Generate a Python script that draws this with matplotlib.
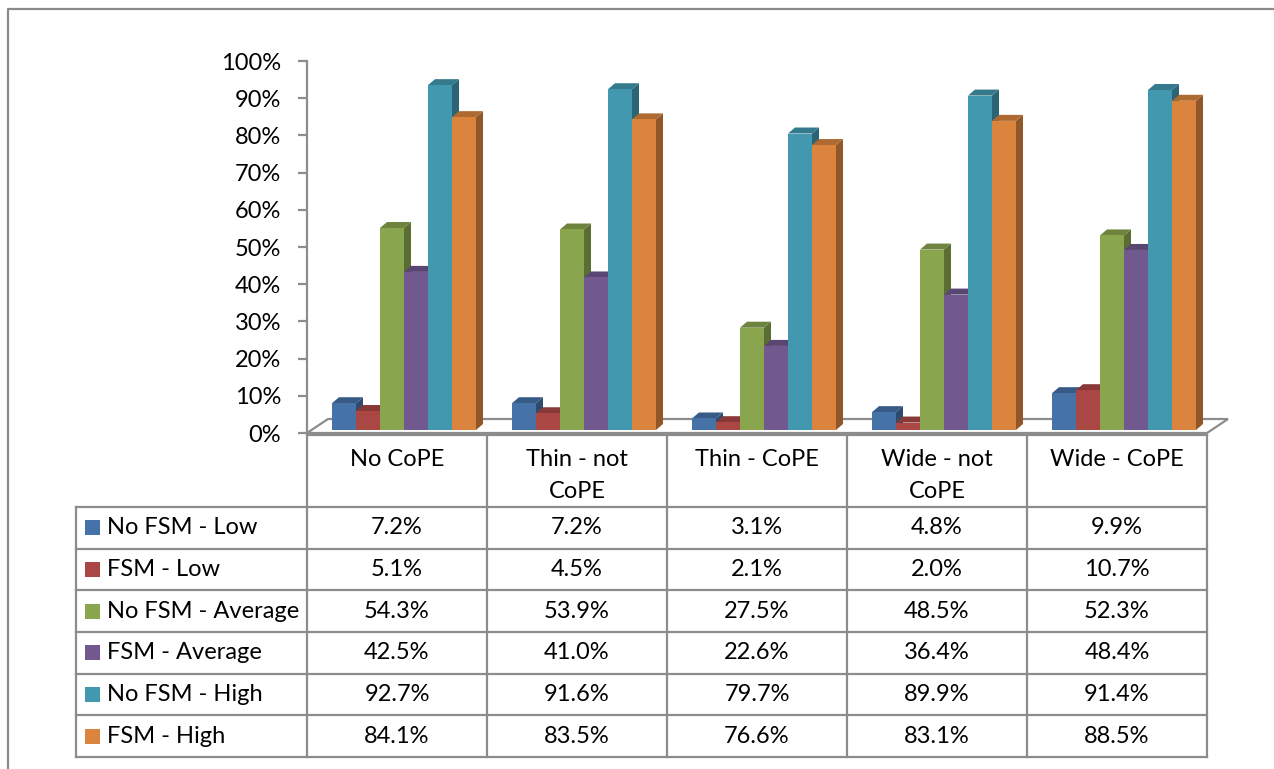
import matplotlib
matplotlib.use("Agg")
import matplotlib.pyplot as plt
from matplotlib.patches import Polygon, Rectangle
from matplotlib.ticker import FuncFormatter
import matplotlib.colors as mcolors

plt.rcParams['font.family'] = ['Lato', 'DejaVu Sans']

# ---- data -------------------------------------------------------------
categories = ["No CoPE", "Thin - not\nCoPE", "Thin - CoPE", "Wide - not\nCoPE", "Wide - CoPE"]
series_names = ["No FSM - Low", "FSM - Low", "No FSM - Average",
                "FSM - Average", "No FSM - High", "FSM - High"]
no_fsm_low = [7.2, 7.2, 3.1, 4.8, 9.9]
fsm_low = [5.1, 4.5, 2.1, 2.0, 10.7]
no_fsm_average = [54.3, 53.9, 27.5, 48.5, 52.3]
fsm_average = [42.5, 41.0, 22.6, 36.4, 48.4]
no_fsm_high = [92.7, 91.6, 79.7, 89.9, 91.4]
fsm_high = [84.1, 83.5, 76.6, 83.1, 88.5]
series_values = [no_fsm_low, fsm_low, no_fsm_average, fsm_average, no_fsm_high, fsm_high]
y_ticks = [0, 10, 20, 30, 40, 50, 60, 70, 80, 90, 100]

colors = ['#4572A7', '#AA4643', '#89A54E', '#71588F', '#4198AF', '#DB843D']

# ---- figure geometry (pixels) ------------------------------------------
W, H = 1274, 769
fig = plt.figure(figsize=(W / 100, H / 100), dpi=100)

plot_left, plot_right = 307, 1207
y0_px, y100_px = 433, 61

ax = fig.add_axes([plot_left / W, (H - y0_px) / H,
                   (plot_right - plot_left) / W, (y0_px - y100_px) / H])
ax.set_xlim(0, len(categories))
ax.set_ylim(0, 100)
ax.set_zorder(2)
ax.patch.set_alpha(0)

grey = '#8C8C8C'
for s in ['top', 'right', 'bottom']:
    ax.spines[s].set_visible(False)
ax.spines['left'].set_color(grey)
ax.spines['left'].set_linewidth(1.6)
ax.set_yticks(y_ticks)
ax.yaxis.set_major_formatter(FuncFormatter(lambda v, p: f"{v:.0f}%"))
ax.tick_params(axis='y', length=6.5, width=1.6, color=grey, labelsize=17,
               pad=12, labelcolor='black')
ax.set_xticks([])

# 3-D floor outline
px_per_cat = (plot_right - plot_left) / len(categories)
px_per_pct = (y0_px - y100_px) / 100.0
floor_dx = 21 / px_per_cat
floor_dy = 14 / px_per_pct
floor = Polygon([(0, 0), (floor_dx, floor_dy),
                 (len(categories) + floor_dx, floor_dy), (len(categories), 0)],
                closed=True, facecolor='white', edgecolor=grey, lw=1.6,
                clip_on=False, zorder=1)
ax.add_patch(floor)

# 3-D columns
bar_w = 24 / px_per_cat
bar_off = 25 / px_per_cat
base = 3 / px_per_pct
ddx = 7 / px_per_cat
ddy = 6 / px_per_pct


def shade(c, f):
    r, g, b = mcolors.to_rgb(c)
    return (r * f, g * f, b * f)


z = 3
for j in range(len(categories)):
    for i, vals in enumerate(series_values):
        v = vals[j]
        x0 = j + bar_off + i * bar_w
        x1 = x0 + bar_w
        y1 = base + v
        c = colors[i]
        side = Polygon([(x1, base), (x1 + ddx, base + ddy), (x1 + ddx, y1 + ddy), (x1, y1)],
                       closed=True, facecolor=shade(c, 0.66), edgecolor='none',
                       clip_on=False, zorder=z)
        top = Polygon([(x0, y1), (x0 + ddx, y1 + ddy), (x1 + ddx, y1 + ddy), (x1, y1)],
                      closed=True, facecolor=shade(c, 0.8), edgecolor='none',
                      clip_on=False, zorder=z)
        front = Rectangle((x0, base), bar_w, v, facecolor=c, edgecolor='none',
                          clip_on=False, zorder=z + 1)
        ax.add_patch(side)
        ax.add_patch(top)
        ax.add_patch(front)
        z += 2

# ---- overlay in pixel coordinates for the frame and data table ----------
ov = fig.add_axes([0, 0, 1, 1])
ov.set_xlim(0, W)
ov.set_ylim(H, 0)
ov.axis('off')
ov.set_zorder(1)

frame_kw = dict(color='#8A8A8A', lw=1.6, solid_capstyle='butt')
ov.plot([8, 8, W], [H, 9, 9], **frame_kw)

tab_left, legend_left = plot_left, 76
tab_top, head_bottom, tab_bottom = 435, 507, 757
n_rows = len(series_names)
row_h = (tab_bottom - head_bottom) / n_rows
line_kw = dict(color=grey, lw=1.6, solid_capstyle='projecting')

ov.plot([tab_left, plot_right], [tab_top, tab_top], **line_kw)
for r in range(n_rows + 1):
    y = head_bottom + r * row_h
    ov.plot([legend_left, plot_right], [y, y], **line_kw)
ov.plot([legend_left, legend_left], [head_bottom, tab_bottom], **line_kw)
for c in range(len(categories) + 1):
    x = tab_left + c * px_per_cat
    ov.plot([x, x], [tab_top, tab_bottom], **line_kw)

fs = 17
for c, name in enumerate(categories):
    xc = tab_left + (c + 0.5) * px_per_cat
    for k, line in enumerate(name.split("\n")):
        ov.text(xc, 460 + k * 32, line, ha='center', va='center', fontsize=fs)

for r, (name, vals) in enumerate(zip(series_names, series_values)):
    yc = head_bottom + (r + 0.5) * row_h
    ov.add_patch(Rectangle((85, yc - 7.5), 15, 15, facecolor=colors[r], edgecolor='none'))
    ov.text(107, yc, name, ha='left', va='center', fontsize=fs)
    for c, v in enumerate(vals):
        xc = tab_left + (c + 0.5) * px_per_cat
        ov.text(xc, yc, f"{v:.1f}%", ha='center', va='center', fontsize=fs)

fig.savefig("out.png", dpi=100, facecolor='white')
